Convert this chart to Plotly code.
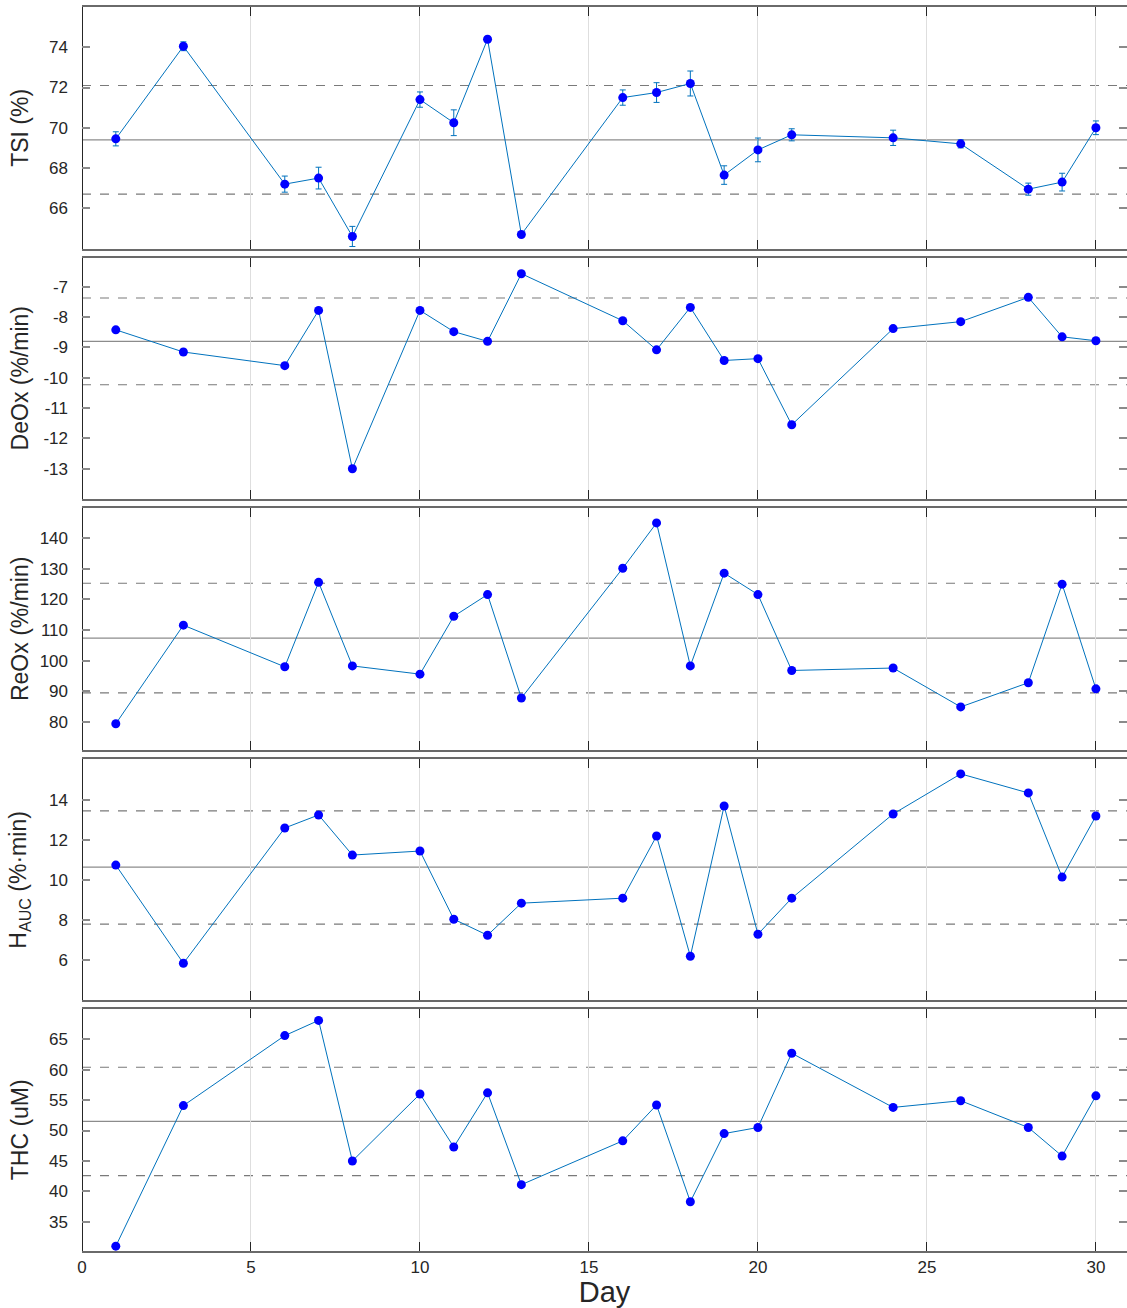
import plotly.graph_objects as go
from plotly.subplots import make_subplots

days = [1, 3, 6, 7, 8, 10, 11, 12, 13, 16, 17, 18, 19, 20, 21, 24, 26, 28, 29, 30]

tsi = [69.45, 74.05, 67.2, 67.5, 64.6, 71.4, 70.25, 74.4, 64.7, 71.5, 71.75, 72.2,
       67.65, 68.9, 69.65, 69.5, 69.2, 66.95, 67.3, 70.0]
tsi_err = [0.35, 0.22, 0.4, 0.54, 0.5, 0.38, 0.64, 0.1, 0.1, 0.38, 0.49, 0.62,
           0.46, 0.59, 0.3, 0.38, 0.2, 0.3, 0.44, 0.34]
deox = [-8.42, -9.15, -9.6, -7.78, -13.0, -7.78, -8.48, -8.8, -6.57, -8.12, -9.08, -7.68,
        -9.43, -9.37, -11.55, -8.38, -8.15, -7.35, -8.65, -8.78]
reox = [79.4, 111.6, 98.0, 125.6, 98.3, 95.6, 114.5, 121.6, 87.8, 130.2, 145.0, 98.3,
        128.6, 121.6, 96.8, 97.6, 84.9, 92.8, 125.0, 90.8]
hauc = [10.75, 5.85, 12.6, 13.25, 11.25, 11.45, 8.05, 7.25, 8.85, 9.1, 12.2, 6.2,
        13.7, 7.3, 9.1, 13.3, 15.3, 14.35, 10.15, 13.2]
thc = [31.0, 54.1, 65.6, 68.1, 45.0, 56.0, 47.3, 56.2, 41.1, 48.3, 54.2, 38.3,
       49.5, 50.5, 62.7, 53.8, 54.9, 50.5, 45.8, 55.7]

labels = ["TSI (%)", "DeOx (%/min)", "ReOx (%/min)", "H<sub>AUC</sub> (%·min)", "THC (uM)"]
means = [69.4, -8.8, 107.4, 10.65, 51.5]
uppers = [72.1, -7.37, 125.3, 13.45, 60.4]
lowers = [66.7, -10.23, 89.5, 7.8, 42.6]
y_ranges = [[64.0, 76.0], [-14.0, -6.04], [70.9, 149.8], [4.0, 16.05], [30.2, 69.9]]
y_tickvals = [
    [66, 68, 70, 72, 74],
    [-13, -12, -11, -10, -9, -8, -7],
    [80, 90, 100, 110, 120, 130, 140],
    [6, 8, 10, 12, 14],
    [35, 40, 45, 50, 55, 60, 65],
]
x_ticks = [0, 5, 10, 15, 20, 25, 30]

series = [tsi, deox, reox, hauc, thc]

fig = make_subplots(rows=5, cols=1, shared_xaxes=True, vertical_spacing=0.0073)

line_col = "#0072BD"
for i, ys in enumerate(series):
    r = i + 1
    err = dict(type="data", array=tsi_err, visible=True, color=line_col,
               thickness=1, width=3) if i == 0 else None
    fig.add_trace(go.Scatter(x=days, y=ys, mode="lines+markers",
                             line=dict(color=line_col, width=1),
                             marker=dict(color="#0000FF", size=9, line=dict(width=0)),
                             error_y=err, showlegend=False), row=r, col=1)
    fig.add_hline(y=means[i], line=dict(color="#8c8c8c", width=1.3), row=r, col=1, layer="below")
    fig.add_hline(y=uppers[i], line=dict(color="#7a7a7a", width=1.2, dash="dash"), row=r, col=1, layer="below")
    fig.add_hline(y=lowers[i], line=dict(color="#7a7a7a", width=1.2, dash="dash"), row=r, col=1, layer="below")
    fig.update_yaxes(range=y_ranges[i], tickvals=y_tickvals[i],
                     ticktext=[str(v) for v in y_tickvals[i]], row=r, col=1)

# y-axis titles, aligned in one column like the reference
for i, lab in enumerate(labels):
    ya = fig.layout["yaxis" if i == 0 else f"yaxis{i + 1}"]
    d0, d1 = ya.domain
    fig.add_annotation(text=lab, xref="paper", yref="paper", x=-0.0593, y=(d0 + d1) / 2,
                       xanchor="center", yanchor="middle", textangle=-90, showarrow=False,
                       font=dict(size=23, color="#262626"))

fig.update_xaxes(range=[0, 30.92], tickvals=x_ticks, showgrid=True, gridcolor="#dedede",
                 gridwidth=1, showline=True, linecolor="#6a6a6a", linewidth=2,
                 mirror="ticks", ticks="inside", ticklen=9, tickcolor="#262626",
                 tickwidth=1, zeroline=True, zerolinecolor="#262626", zerolinewidth=1,
                 tickfont=dict(size=17, color="#262626"))
fig.update_xaxes(title_text="Day", title_font=dict(size=29, color="#262626"),
                 title_standoff=1, row=5, col=1)
fig.update_yaxes(showgrid=False, zeroline=False, showline=False, mirror="ticks",
                 ticks="inside", ticklen=8, tickcolor="#8a8a8a", tickwidth=1.5,
                 ticklabelstandoff=13,
                 tickfont=dict(size=17, color="#262626"))

fig.update_layout(width=1127, height=1308, margin=dict(l=82, r=0, t=7, b=57),
                  plot_bgcolor="white", paper_bgcolor="white",
                  font=dict(family="Liberation Sans, Arial, sans-serif", color="#262626"))

fig.write_html("out.html")
